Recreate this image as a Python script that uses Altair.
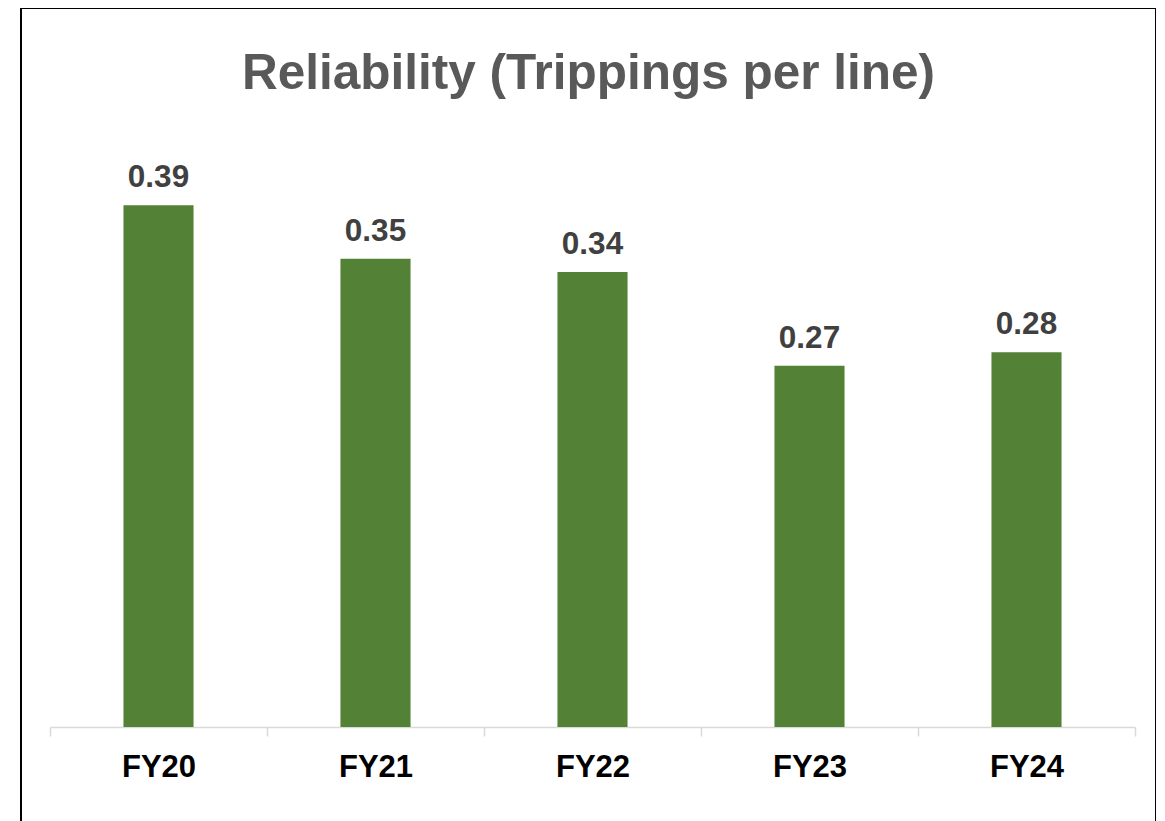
import altair as alt
import pandas as pd

years = ["FY20", "FY21", "FY22", "FY23", "FY24"]
values = [0.39, 0.35, 0.34, 0.27, 0.28]
labels = ["0.39", "0.35", "0.34", "0.27", "0.28"]

df = pd.DataFrame({"year": years, "value": values, "label": labels})

FONT = "Liberation Sans"

x = alt.X(
    "year:N",
    sort=years,
    title=None,
    scale=alt.Scale(range=[29, 1114], paddingInner=0, paddingOuter=0),
    axis=alt.Axis(
        orient="bottom",
        offset=-111,
        domainColor="#d9d9d9",
        domainWidth=1.5,
        tickColor="#d9d9d9",
        tickWidth=1.5,
        tickSize=9,
        tickBand="extent",
        labelFont=FONT,
        labelFontSize=31,
        labelFontWeight="bold",
        labelColor="#000000",
        labelPadding=16,
        labelAngle=0,
    ),
)
y = alt.Y(
    "value:Q",
    title=None,
    scale=alt.Scale(domain=[0, 0.5], range=[719, 50], nice=False, zero=True),
    axis=None,
)

bars = alt.Chart(df).mark_bar(color="#538135", width=alt.RelativeBandSize(0.323)).encode(x=x, y=y)
text = alt.Chart(df).mark_text(
    font=FONT, fontSize=31.5, fontWeight="bold", color="#404040",
    baseline="alphabetic", dy=-18,
).encode(x=x, y=y, text="label:N")

chart = (
    alt.layer(bars, text)
    .properties(
        width=1135,
        height=830,
        background="#ffffff",
        padding={"left": 13, "top": 0, "right": 0, "bottom": 0},
        title=alt.TitleParams(
            "Reliability (Trippings per line)",
            font=FONT,
            fontSize=49.5,
            fontWeight="bold",
            color="#595959",
            anchor="middle",
            frame="group",
            baseline="alphabetic",
            offset=0,
            dy=130,
        ),
    )
    .configure_view(stroke="#000000", strokeWidth=2)
)

chart.save("out.html", embed_options={"renderer": "svg", "actions": False})
